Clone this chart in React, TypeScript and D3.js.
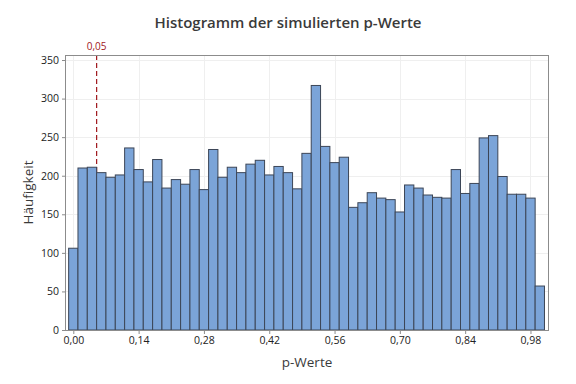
import * as d3 from "d3";
import { useEffect, useRef } from "react";

// bin midpoints 0.00 .. 1.00, width 0.02
const midpoints = d3.range(51).map((i) => +(i * 0.02).toFixed(2));
const counts = [
  106, 210, 211, 204, 198, 201, 236, 208, 192, 221, 184, 195, 189, 208, 182,
  234, 198, 211, 204, 215, 220, 201, 212, 204, 183, 229, 317, 238, 217, 224,
  159, 165, 178, 171, 169, 153, 188, 184, 175, 172, 171, 208, 177, 190, 249,
  252, 199, 176, 176, 171, 57,
];
const xTicks = [0, 0.14, 0.28, 0.42, 0.56, 0.7, 0.84, 0.98];
const yTicks = [0, 50, 100, 150, 200, 250, 300, 350];
const refLine = 0.05;
const binWidth = 0.02;

const font = "'Open Sans', 'Noto Sans', sans-serif";
const fmt = (v: number) => v.toFixed(2).replace(".", ",");

const App = () => {
  const ref = useRef<SVGSVGElement>(null);

  useEffect(() => {
    const width = 576;
    const height = 384;
    const m = { left: 65, right: 27, top: 55, bottom: 54 };
    const svg = d3.select(ref.current);
    svg.attr("width", width).attr("height", height);

    const x = d3
      .scaleLinear()
      .domain([-0.0178, 1.0197])
      .range([m.left, width - m.right]);
    const y = d3
      .scaleLinear()
      .domain([0, 356.5])
      .range([height - m.bottom, m.top]);

    svg
      .append("rect")
      .attr("width", width)
      .attr("height", height)
      .attr("fill", "#fff");

    // grid
    const grid = svg.append("g").attr("stroke", "#efefef").attr("stroke-width", 1);
    xTicks.forEach((t) =>
      grid
        .append("line")
        .attr("x1", Math.round(x(t)) + 0.5)
        .attr("x2", Math.round(x(t)) + 0.5)
        .attr("y1", m.top)
        .attr("y2", height - m.bottom)
    );
    yTicks.forEach((t) =>
      grid
        .append("line")
        .attr("x1", m.left)
        .attr("x2", width - m.right)
        .attr("y1", Math.round(y(t)) + 0.5)
        .attr("y2", Math.round(y(t)) + 0.5)
    );

    // reference line
    svg
      .append("line")
      .attr("x1", x(refLine))
      .attr("x2", x(refLine))
      .attr("y1", m.top)
      .attr("y2", height - m.bottom)
      .attr("stroke", "#a0171c")
      .attr("stroke-width", 1.2)
      .attr("stroke-dasharray", "5,3");
    svg
      .append("text")
      .attr("x", x(refLine))
      .attr("y", m.top - 5)
      .attr("text-anchor", "middle")
      .attr("font-family", font)
      .attr("font-size", 10)
      .attr("fill", "#a0171c")
      .text(fmt(refLine));

    // bars
    svg
      .append("g")
      .selectAll("rect")
      .data(midpoints)
      .join("rect")
      .attr("x", (d) => x(d - binWidth / 2))
      .attr("width", (d) => x(d + binWidth / 2) - x(d - binWidth / 2))
      .attr("y", (_, i) => y(counts[i]))
      .attr("height", (_, i) => y(0) - y(counts[i]))
      .attr("fill", "#7ba4d8")
      .attr("stroke", "#3c4657")
      .attr("stroke-width", 1);

    // frame
    svg
      .append("rect")
      .attr("x", m.left + 0.5)
      .attr("y", m.top + 0.5)
      .attr("width", width - m.left - m.right - 1)
      .attr("height", height - m.top - m.bottom)
      .attr("fill", "none")
      .attr("stroke", "#8c8c8c");

    // axes
    const xAxis = svg
      .append("g")
      .attr("transform", `translate(0,${height - m.bottom + 1})`)
      .call(
        d3
          .axisBottom(x)
          .tickValues(xTicks)
          .tickFormat((d) => fmt(+d))
          .tickSize(3)
          .tickPadding(3)
      );
    const yAxis = svg
      .append("g")
      .attr("transform", `translate(${m.left},0)`)
      .call(d3.axisLeft(y).tickValues(yTicks).tickSize(3).tickPadding(3));
    [xAxis, yAxis].forEach((a) => {
      a.select(".domain").remove();
      a.selectAll("line").attr("stroke", "#8c8c8c");
      a.selectAll("text")
        .attr("font-family", font)
        .attr("font-size", 10.5)
        .attr("fill", "#222");
    });

    // titles
    svg
      .append("text")
      .attr("x", width / 2)
      .attr("y", 28)
      .attr("text-anchor", "middle")
      .attr("font-family", font)
      .attr("font-size", 15)
      .attr("font-weight", 600)
      .attr("fill", "#3a3a3a")
      .text("Histogramm der simulierten p-Werte");
    svg
      .append("text")
      .attr("x", (m.left + width - m.right) / 2)
      .attr("y", 367)
      .attr("text-anchor", "middle")
      .attr("font-family", font)
      .attr("font-size", 13.5)
      .attr("font-weight", 500)
      .attr("fill", "#3a3a3a")
      .text("p-Werte");
    svg
      .append("text")
      .attr("transform", `translate(33,${(m.top + height - m.bottom) / 2}) rotate(-90)`)
      .attr("text-anchor", "middle")
      .attr("font-family", font)
      .attr("font-size", 13.5)
      .attr("font-weight", 500)
      .attr("fill", "#3a3a3a")
      .text("Häufigkeit");

    return () => {
      svg.selectAll("*").remove();
    };
  }, []);

  return <svg ref={ref} style={{ display: "block", margin: -8 }}></svg>;
};

export default App;
